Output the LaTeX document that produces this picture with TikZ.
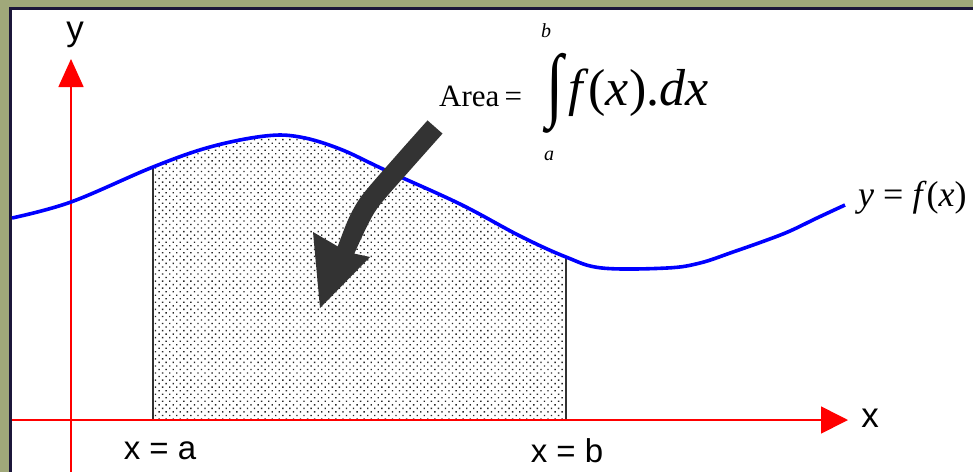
\documentclass[tikz,border=0pt]{standalone}
\usepackage{fontspec}
\setmainfont{Liberation Serif}
\newfontfamily\sansf{Liberation Sans}
\usetikzlibrary{patterns.meta,arrows.meta}
\definecolor{frameolive}{RGB}{160,168,122}
\definecolor{framedark}{RGB}{28,22,58}
\definecolor{curveblue}{RGB}{0,0,255}
\definecolor{axisred}{RGB}{255,0,0}
\definecolor{bounddark}{RGB}{50,50,50}
\tikzset{
  axisline/.style={draw=axisred,line width=1.6pt},
  axishead/.style={-{Triangle[length=27pt,width=27pt,fill=axisred]}},
  curveline/.style={draw=curveblue,line width=3.6pt,line join=round},
  boundline/.style={draw=bounddark,line width=2pt},
  axlabel/.style={inner sep=0pt,font=\sansf\fontsize{35}{38}\selectfont},
  limlabel/.style={inner sep=0pt,font=\fontsize{33}{36}\selectfont\sansf},
  smalllim/.style={inner sep=0pt,font=\fontsize{20}{22}\selectfont\itshape},
  bigarrow/.style={fill=black!80},
}
\begin{document}
\begin{tikzpicture}[x=1pt,y=-1pt]
\useasboundingbox (0,0) rectangle (973,472);
% frame
\fill[frameolive] (0,0) rectangle (973,472);
\fill[framedark] (9,7) rectangle (973,472);
\fill[white] (12,10) rectangle (973,472);
% shaded area
\begin{scope}
\clip (153,0) rectangle (566,420);
\fill[pattern={Dots[distance=5pt,radius=0.95pt,angle=45]},pattern color=black!85]
  plot[smooth,tension=0.6] coordinates {(12,218) (71,202) (153,167) (210,147) (265,136) (300,137) (340,149) (385,170) (460,204) (520,236) (566,257) (602,268) (667,268) (700,263) (733,252) (767,240) (790,231) (817,218) (845,205)}
  -- (845,420) -- (12,420) -- cycle;
\end{scope}
% boundary lines
\coordinate (pa) at (153,167);
\coordinate (qa) at (153,420);
\coordinate (pb) at (566,257);
\coordinate (qb) at (566,420);
\draw[boundline] (pa) -- (qa);
\draw[boundline] (pb) -- (qb);
% axes
\coordinate (xstart) at (12,420);
\coordinate (xend) at (848,420);
\coordinate (ystart) at (71,472);
\coordinate (yend) at (71,59);
\draw[axisline,axishead] (xstart) -- (xend);
\draw[axisline,-{Triangle[length=28pt,width=25pt,fill=axisred]}] (ystart) -- (yend);
% curve
\draw[curveline] plot[smooth,tension=0.6] coordinates {(12,218) (71,202) (153,167) (210,147) (265,136) (300,137) (340,149) (385,170) (460,204) (520,236) (566,257) (602,268) (667,268) (700,263) (733,252) (767,240) (790,231) (817,218) (845,205)};
% big arrow
\fill[bigarrow] plot[smooth] coordinates {(442.5,133.6) (410.5,169.6) (379.3,205.5) (366.9,226.5) (354.3,253.6)}
  -- (370,257) -- (320,308) -- (313,232)
  -- plot[smooth] coordinates {(337.7,246.4) (349.1,217.5) (362.7,194.5) (395.5,156.4) (427.5,120.4)} -- cycle;
% labels
\node[axlabel] (ylab) at (75,35) {y};
\node[axlabel] (xlab) at (870,418) {x};
\node[limlabel] (alab) at (160,451) {x = a};
\node[limlabel] (blab) at (567,451) {x = b};
\node[inner sep=0pt,anchor=base west,font=\fontsize{31}{34}\selectfont] (area) at (439,106) {Area\,=};
\node[inner sep=0pt] (intsign) at (555,93) {\resizebox*{17pt}{80pt}{∫}};
\node[smalllim] (blim) at (546,31) {b};
\node[smalllim] (alim) at (549,156) {a};
\node[inner sep=0pt,anchor=base west,font=\fontsize{52}{56}\selectfont] (fx) at (568,105) {\textit{f}(\textit{x}).\textit{dx}};
\node[inner sep=0pt,anchor=base west,font=\fontsize{36}{40}\selectfont] (yfx) at (858,206) {\textit{y} = \textit{f}(\textit{x})};
\end{tikzpicture}
\end{document}
